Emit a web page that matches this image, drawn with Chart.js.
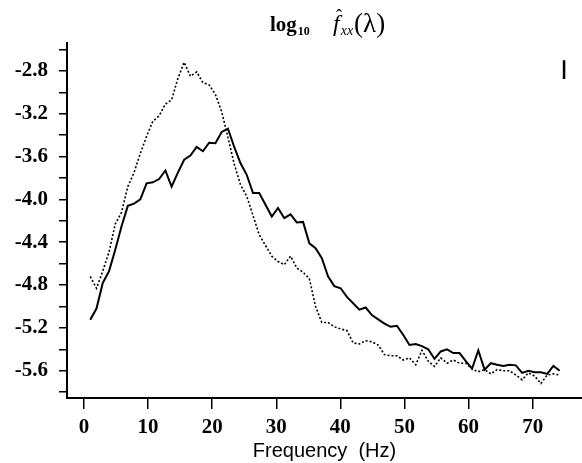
<!DOCTYPE html>
<html>
<head>
<meta charset="utf-8">
<script src="https://cdn.jsdelivr.net/npm/chart.js@4.4.1/dist/chart.umd.min.js"></script>
<style>
    body { margin: 0; background: #fff; }
    #wrap { width: 582px; height: 463px; }
</style>
</head>
<body>
<div id="wrap"><canvas id="spectrumChart" width="582" height="463"></canvas></div>
<script>
/* ================================
   LOG SPECTRUM ESTIMATE  log10 f_xx(lambda)
   ================================ */

// Frequency grid (Hz)
const freqs = [0.98, 1.95, 2.93, 3.91, 4.88, 5.86, 6.84, 7.81, 8.79, 9.77,
    10.74, 11.72, 12.70, 13.67, 14.65, 15.63, 16.60, 17.58, 18.55, 19.53,
    20.51, 21.48, 22.46, 23.44, 24.41, 25.39, 26.37, 27.34, 28.32, 29.30,
    30.27, 31.25, 32.23, 33.20, 34.18, 35.16, 36.13, 37.11, 38.09, 39.06,
    40.04, 41.02, 41.99, 42.97, 43.95, 44.92, 45.90, 46.88, 47.85, 48.83,
    49.80, 50.78, 51.76, 52.73, 53.71, 54.69, 55.66, 56.64, 57.62, 58.59,
    59.57, 60.55, 61.52, 62.50, 63.48, 64.45, 65.43, 66.41, 67.38, 68.36,
    69.34, 70.31, 71.29, 72.27, 73.24, 74.22];

// Solid curve
const solidValues = [-5.125, -5.02, -4.78, -4.67, -4.47, -4.25, -4.06, -4.04, -4.00, -3.85,
    -3.84, -3.81, -3.73, -3.88, -3.75, -3.63, -3.59, -3.51, -3.55, -3.47,
    -3.475, -3.37, -3.34, -3.51, -3.66, -3.77, -3.94, -3.94, -4.05, -4.16,
    -4.08, -4.175, -4.14, -4.215, -4.21, -4.41, -4.455, -4.55, -4.72, -4.81,
    -4.83, -4.91, -4.97, -5.03, -5.01, -5.08, -5.12, -5.16, -5.19, -5.18,
    -5.265, -5.36, -5.35, -5.37, -5.40, -5.49, -5.42, -5.40, -5.435, -5.435,
    -5.51, -5.58, -5.41, -5.59, -5.53, -5.545, -5.555, -5.545, -5.55, -5.62,
    -5.60, -5.615, -5.615, -5.63, -5.555, -5.60];

// Dotted curve
const dottedValues = [-4.72, -4.83, -4.67, -4.49, -4.23, -4.12, -3.88, -3.75, -3.57, -3.41,
    -3.27, -3.22, -3.11, -3.07, -2.87, -2.72, -2.85, -2.81, -2.91, -2.93,
    -3.02, -3.18, -3.42, -3.67, -3.86, -3.97, -4.15, -4.33, -4.43, -4.53,
    -4.58, -4.61, -4.53, -4.64, -4.68, -4.74, -5.00, -5.15, -5.15, -5.19,
    -5.21, -5.225, -5.34, -5.35, -5.32, -5.33, -5.36, -5.45, -5.46, -5.46,
    -5.50, -5.48, -5.545, -5.41, -5.51, -5.56, -5.48, -5.53, -5.50, -5.53,
    -5.53, -5.585, -5.61, -5.59, -5.63, -5.59, -5.60, -5.60, -5.64, -5.685,
    -5.62, -5.65, -5.72, -5.64, -5.63, -5.64];

// Interval bar (top right)
const barFreq = 74.9;
const barRange = [-2.70, -2.875];

// Axis ticks
const xTicks = [0, 10, 20, 30, 40, 50, 60, 70];
const yMajor = [-2.8, -3.2, -3.6, -4.0, -4.4, -4.8, -5.2, -5.6];
const yMinor = [-2.6, -3.0, -3.4, -3.8, -4.2, -4.6, -5.0, -5.4, -5.8];

const serif = '"Liberation Serif", "Times New Roman", serif';

function toPoints(xs, ys) {
    return xs.map((x, i) => ({ x: x, y: ys[i] }));
}

// Title drawn with sub/superscripts
const mathTitle = {
    id: 'mathTitle',
    afterDraw(chart) {
        const ctx = chart.ctx;
        ctx.save();
        ctx.fillStyle = '#000';
        ctx.textBaseline = 'alphabetic';
        let x = 270;
        ctx.font = 'bold 21px ' + serif;
        ctx.fillText('log', x, 31);
        x += ctx.measureText('log').width + 1;
        ctx.font = 'bold 12px ' + serif;
        ctx.fillText('10', x, 35);
        x = 333;
        ctx.font = 'italic 24px ' + serif;
        ctx.fillText('f', x, 31);
        const fw = ctx.measureText('f').width;
        ctx.font = '18px ' + serif;
        ctx.fillText('\u02C6', x + 3, 22);
        x += fw + 1;
        ctx.font = 'italic 14px ' + serif;
        ctx.fillText('xx', x, 35);
        x += ctx.measureText('xx').width + 1;
        ctx.font = '27px ' + serif;
        ctx.fillText('(\u03BB)', x, 32);
        ctx.restore();
    }
};

function initializeSpectrumChart() {
    const ctx = document.getElementById('spectrumChart');
    if (!ctx) return;

    new Chart(ctx, {
        type: 'line',
        data: {
            datasets: [
                {
                    label: 'solid',
                    data: toPoints(freqs, solidValues),
                    borderColor: '#000',
                    borderWidth: 2,
                    pointRadius: 0,
                    tension: 0
                },
                {
                    label: 'dotted',
                    data: toPoints(freqs, dottedValues),
                    borderColor: '#000',
                    borderWidth: 1.6,
                    borderDash: [2, 2],
                    pointRadius: 0,
                    tension: 0
                },
                {
                    label: 'interval',
                    data: toPoints([barFreq, barFreq], barRange),
                    borderColor: '#000',
                    borderWidth: 2.5,
                    pointRadius: 0
                }
            ]
        },
        options: {
            responsive: false,
            animation: false,
            layout: { padding: { top: 43, right: 0, left: 0, bottom: 0 } },
            plugins: {
                legend: { display: false },
                tooltip: { enabled: false }
            },
            scales: {
                x: {
                    type: 'linear',
                    min: -2.65,
                    max: 77.7,
                    afterFit: function(scale) { scale.height = 65; },
                    afterBuildTicks: function(scale) {
                        scale.ticks = xTicks.map(v => ({ value: v }));
                    },
                    border: { display: true, color: '#000', width: 2 },
                    grid: {
                        drawOnChartArea: false,
                        drawTicks: true,
                        tickLength: 11,
                        color: '#000',
                        lineWidth: 1.5
                    },
                    ticks: {
                        autoSkip: false,
                        color: '#000',
                        padding: 6,
                        maxRotation: 0,
                        font: { family: serif, size: 21, weight: 'bold' },
                        callback: function(value) { return String(value); }
                    },
                    title: {
                        display: true,
                        text: 'Frequency  (Hz)',
                        color: '#000',
                        padding: { top: 0, bottom: 0 },
                        font: { family: '"Liberation Sans", Arial, sans-serif', size: 20 }
                    }
                },
                y: {
                    type: 'linear',
                    min: -5.855,
                    max: -2.539,
                    afterFit: function(scale) { scale.width = 67; },
                    afterBuildTicks: function(scale) {
                        scale.ticks = yMajor.concat(yMinor)
                            .sort((a, b) => b - a)
                            .map(v => ({ value: v }));
                    },
                    border: { display: true, color: '#000', width: 2 },
                    grid: {
                        drawOnChartArea: false,
                        drawTicks: true,
                        tickLength: 8,
                        color: '#000',
                        lineWidth: 1.5
                    },
                    ticks: {
                        autoSkip: false,
                        color: '#000',
                        padding: 11,
                        font: { family: serif, size: 21, weight: 'bold' },
                        callback: function(value) {
                            const major = yMajor.some(v => Math.abs(v - value) < 1e-6);
                            return major ? value.toFixed(1) : '';
                        }
                    }
                }
            }
        },
        plugins: [mathTitle]
    });
}

document.addEventListener('DOMContentLoaded', function() {
    initializeSpectrumChart();
});
</script>
</body>
</html>
